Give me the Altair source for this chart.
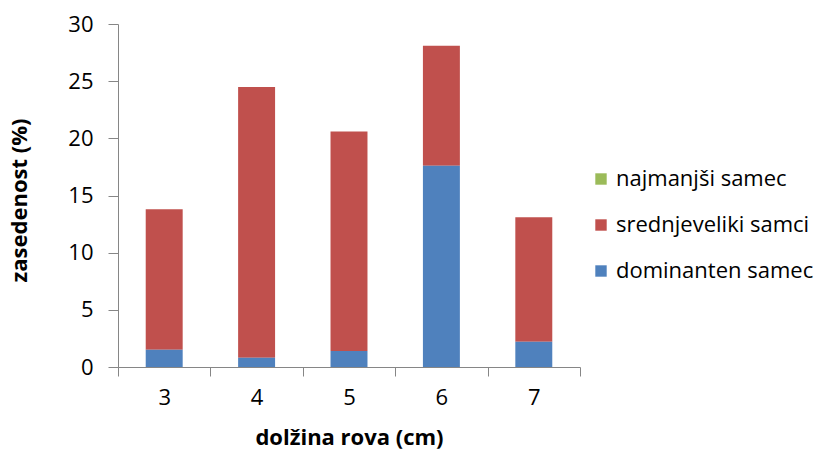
import altair as alt
import pandas as pd

# Burrow length categories (cm)
lengths = ["3", "4", "5", "6", "7"]

# Occupancy (%) per male class
najmanjsi = [0.0, 0.0, 0.0, 0.0, 0.0]
srednjeveliki = [12.3, 23.7, 19.2, 10.5, 10.9]
dominanten = [1.5, 0.8, 1.4, 17.6, 2.2]

series = ["najmanjši samec", "srednjeveliki samci", "dominanten samec"]
colors = ["#9BBB59", "#C0504D", "#4F81BD"]
stack_order = {"dominanten samec": 0, "srednjeveliki samci": 1, "najmanjši samec": 2}

rows = []
for name, vals in zip(series, [najmanjsi, srednjeveliki, dominanten]):
    for L, v in zip(lengths, vals):
        rows.append({"dolzina": L, "skupina": name, "vrednost": v, "red": stack_order[name]})
df = pd.DataFrame(rows)

FONT = "Open Sans"
GRAY = "#868686"
FS = 22

chart = (
    alt.Chart(df)
    .mark_bar(width=alt.RelativeBandSize(0.4))
    .encode(
        x=alt.X(
            "dolzina:N",
            sort=lengths,
            scale=alt.Scale(paddingInner=0, paddingOuter=0),
            axis=alt.Axis(
                title="dolžina rova (cm)",
                labelAngle=0,
                tickBand="extent",
                tickSize=9,
                labelPadding=11,
                labelFontSize=FS,
                titleFontSize=FS,
                titleFontWeight="bold",
                titleY=70,
                titleBaseline="middle",
            ),
        ),
        y=alt.Y(
            "vrednost:Q",
            stack="zero",
            scale=alt.Scale(domain=[0, 30], nice=False),
            axis=alt.Axis(
                title="zasedenost (%)",
                values=[0, 5, 10, 15, 20, 25, 30],
                tickSize=10,
                labelPadding=15,
                labelFontSize=FS,
                titleFontSize=FS,
                titleFontWeight="bold",
                titleX=-99,
                titleY=176,
                titleBaseline="middle",
                grid=False,
            ),
        ),
        color=alt.Color(
            "skupina:N",
            scale=alt.Scale(domain=series, range=colors),
            legend=alt.Legend(
                title=None,
                orient="none",
                legendX=472,
                legendY=144,
                symbolType="square",
                symbolSize=130,
                symbolStrokeWidth=0,
                labelFontSize=FS,
                labelLimit=400,
                labelOffset=4,
                rowPadding=24,
            ),
        ),
        order=alt.Order("red:Q"),
    )
    .properties(
        width=462,
        height=343,
        autosize=alt.AutoSizeParams(type="none"),
        padding={"left": 118, "top": 24, "right": 248, "bottom": 86},
    )
    .configure(font=FONT)
    .configure_view(stroke=None)
    .configure_axis(
        domainColor=GRAY,
        tickColor=GRAY,
        labelColor="#000000",
        titleColor="#000000",
        labelFont=FONT,
        titleFont=FONT,
        domainWidth=1,
        tickWidth=1,
    )
    .configure_legend(labelFont=FONT, labelColor="#000000")
)

chart.save("out.html", embed_options={"renderer": "svg", "actions": False})
